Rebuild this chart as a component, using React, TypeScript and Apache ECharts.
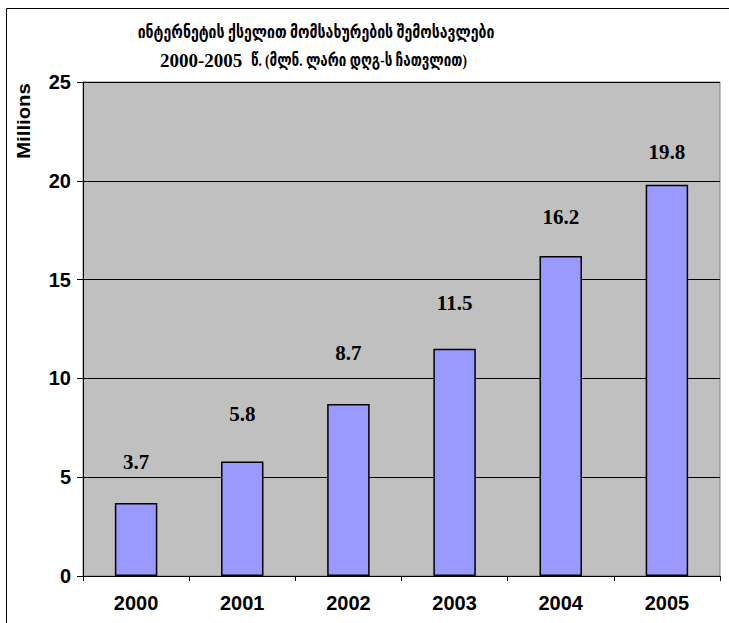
import React, { useEffect, useRef } from "react";
import * as echarts from "echarts";

const categories = ["2000", "2001", "2002", "2003", "2004", "2005"];
const values = [3.7, 5.8, 8.7, 11.5, 16.2, 19.8];
const labelGaps = [30, 37, 41, 35, 28, 22];
const titleLine1 = "ინტერნეტის ქსელით მომსახურების შემოსავლები";
const titleLine2Years = "2000-2005";
const titleLine2Rest = "წ. (მლნ. ლარი დღგ-ს ჩათვლით)";
const yAxisName = "Millions";

export default function App() {
  const ref = useRef<HTMLDivElement>(null);
  useEffect(() => {
    if (!ref.current) return;
    const chart = echarts.init(ref.current, null, { renderer: "svg" });
    const serif = "'Liberation Serif', 'DejaVu Serif', serif";
    const geo = "'Liberation Serif', 'DejaVu Sans', serif";
    const sans = "Arial, 'Liberation Sans', sans-serif";
    chart.setOption({
      animation: false,
      backgroundColor: "#ffffff",
      grid: {
        left: 83,
        top: 82,
        width: 637,
        height: 494,
        show: true,
        backgroundColor: "#C0C0C0",
        borderColor: "#808080",
        borderWidth: 1,
      },
      graphic: [
        {
          type: "rect",
          shape: { x: 6.5, y: 8.5, width: 900, height: 800 },
          style: { fill: "none", stroke: "#000", lineWidth: 1 },
          silent: true,
          z: 100,
        },
        {
          type: "text",
          x: 316,
          y: 32,
          scaleX: 0.83,
          style: {
            text: titleLine1,
            font: `bold 17px ${geo}`,
            fill: "#000",
            textAlign: "center",
            textVerticalAlign: "middle",
          },
        },
        {
          type: "text",
          x: 160,
          y: 60,
          style: {
            text: titleLine2Years,
            font: `bold 19px ${serif}`,
            fill: "#000",
            textAlign: "left",
            textVerticalAlign: "middle",
          },
        },
        {
          type: "text",
          x: 251,
          y: 60,
          scaleX: 0.79,
          style: {
            text: titleLine2Rest,
            font: `bold 17px ${geo}`,
            fill: "#000",
            textAlign: "left",
            textVerticalAlign: "middle",
          },
        },
        {
          type: "text",
          x: 23,
          y: 121,
          rotation: Math.PI / 2,
          scaleX: 1.07,
          style: {
            text: yAxisName,
            font: `bold 19px ${sans}`,
            fill: "#000",
            textAlign: "center",
            textVerticalAlign: "middle",
          },
        },
      ],
      xAxis: {
        type: "category",
        data: categories,
        axisLine: { lineStyle: { color: "#000", width: 1 } },
        axisTick: { show: true, length: 5, lineStyle: { color: "#000" } },
        axisLabel: {
          color: "#000",
          fontSize: 20,
          fontWeight: "bold",
          fontFamily: sans,
          margin: 17,
        },
      },
      yAxis: {
        type: "value",
        min: 0,
        max: 25,
        interval: 5,
        axisLine: { show: true, lineStyle: { color: "#000", width: 1 } },
        axisTick: { show: true, length: 6, lineStyle: { color: "#000" } },
        axisLabel: {
          color: "#000",
          fontSize: 20,
          fontWeight: "bold",
          fontFamily: sans,
          margin: 12,
        },
        splitLine: { show: true, lineStyle: { color: "#000", width: 1 } },
      },
      series: [
        {
          type: "bar",
          barWidth: "40%",
          data: values.map((v, i) => ({
            value: v,
            label: { distance: labelGaps[i] },
          })),
          itemStyle: { color: "#9999FF", borderColor: "#000", borderWidth: 1.5 },
          label: {
            show: true,
            position: "top",
            color: "#000",
            fontSize: 21,
            fontWeight: "bold",
            fontFamily: serif,
            formatter: (p: any) => p.value.toFixed(1),
          },
        },
      ],
    });
    return () => chart.dispose();
  }, []);
  return (
    <div
      ref={ref}
      style={{ position: "fixed", left: 0, top: 0, width: 729, height: 623 }}
    />
  );
}
